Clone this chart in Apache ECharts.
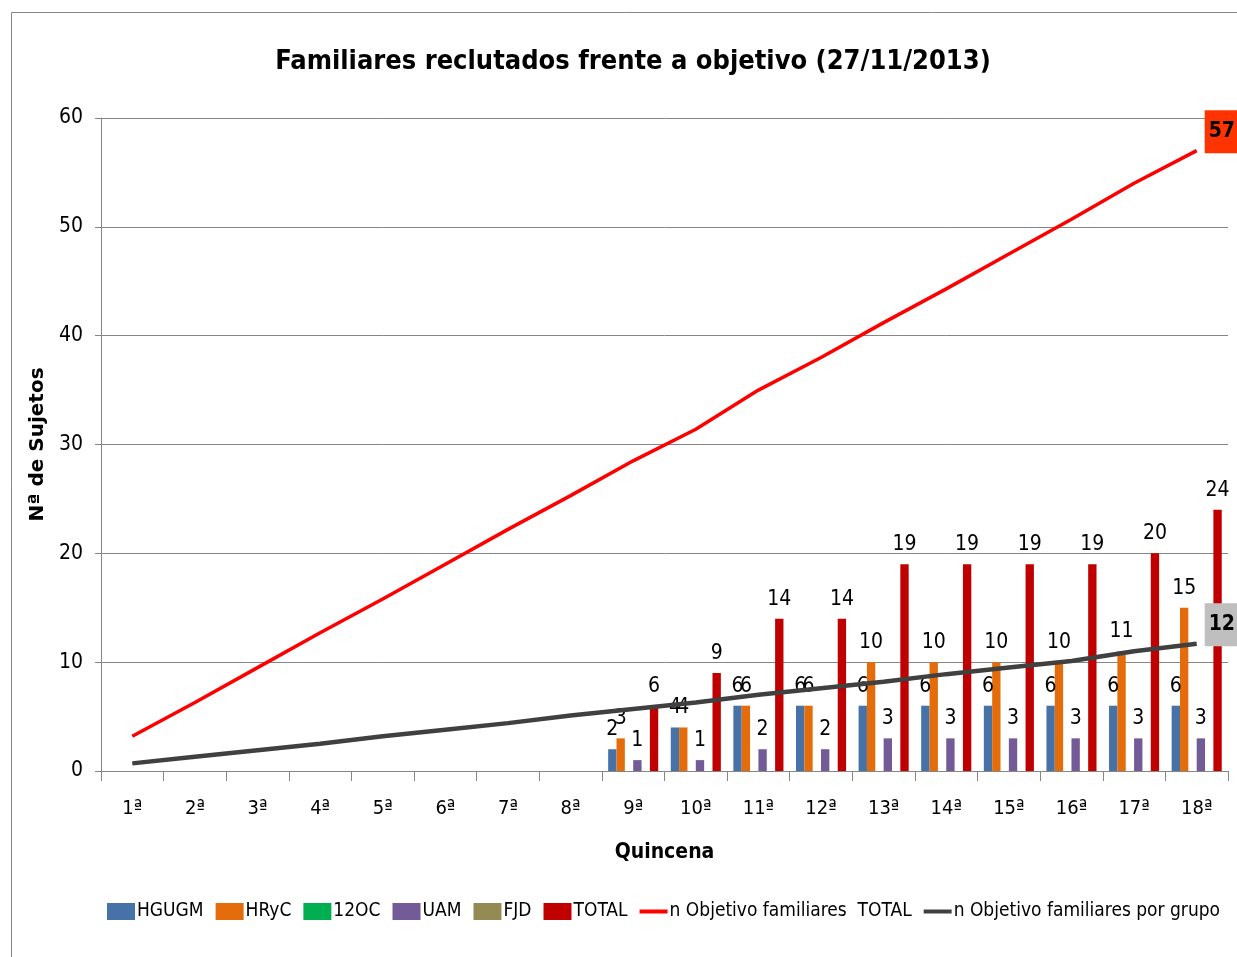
<!DOCTYPE html>
<html>
<head>
<meta charset="utf-8">
<script src="https://cdn.jsdelivr.net/npm/echarts@6/dist/echarts.min.js"></script>
<style>
  html, body { margin: 0; padding: 0; background: #fff; }
  #chart { width: 1237px; height: 957px; }
</style>
</head>
<body>
<div id="chart"></div>
<script>
// quincenas
const categories = ['1ª', '2ª', '3ª', '4ª', '5ª', '6ª', '7ª', '8ª', '9ª',
  '10ª', '11ª', '12ª', '13ª', '14ª', '15ª', '16ª', '17ª', '18ª']

// reclutados por grupo (0 = sin barra)
const hgugm = [0, 0, 0, 0, 0, 0, 0, 0, 2, 4, 6, 6, 6, 6, 6, 6, 6, 6]
const hryc  = [0, 0, 0, 0, 0, 0, 0, 0, 3, 4, 6, 6, 10, 10, 10, 10, 11, 15]
const oc12  = [0, 0, 0, 0, 0, 0, 0, 0, 0, 0, 0, 0, 0, 0, 0, 0, 0, 0]
const uam   = [0, 0, 0, 0, 0, 0, 0, 0, 1, 1, 2, 2, 3, 3, 3, 3, 3, 3]
const fjd   = [0, 0, 0, 0, 0, 0, 0, 0, 0, 0, 0, 0, 0, 0, 0, 0, 0, 0]
const total = [0, 0, 0, 0, 0, 0, 0, 0, 6, 9, 14, 14, 19, 19, 19, 19, 20, 24]

// objetivos
const objTotal = [3.2, 6.3, 9.5, 12.7, 15.8, 19, 22.2, 25.3, 28.5, 31.4, 35, 38, 41.2, 44.3, 47.5, 50.7, 54, 57]
const objGrupo = [0.7, 1.3, 1.9, 2.5, 3.2, 3.8, 4.4, 5.1, 5.7, 6.3, 7.0, 7.6, 8.2, 8.9, 9.5, 10.1, 11.0, 11.7]

const yTicks = [0, 10, 20, 30, 40, 50, 60]

const FONT = '"DejaVu Sans Condensed", "Liberation Sans Narrow", sans-serif'
const LINE_ICON = 'path://M0,0 L28,0 L28,4 L0,4 Z'

const chart = echarts.init(document.getElementById('chart'))

const barLabel = {
  show: true,
  position: 'top',
  distance: 9,
  fontFamily: FONT,
  fontSize: 21,
  color: '#000',
  formatter: p => (p.value ? p.value : '')
}

const makeBar = (name, data, color) => ({
  name,
  type: 'bar',
  data,
  barGap: '0%',
  barCategoryGap: '20%',
  itemStyle: { color },
  label: barLabel
})

const endLabel = bg => ({
  show: true,
  distance: 8,
  offset: [0, -19],
  formatter: p => Math.round(p.value[1] !== undefined ? p.value[1] : p.value),
  fontFamily: FONT,
  fontWeight: 'bold',
  fontSize: 21,
  color: '#000',
  backgroundColor: bg,
  padding: [11, 4, 11, 4]
})

const option = {
  backgroundColor: '#fff',
  animation: false,
  title: {
    text: 'Familiares reclutados frente a objetivo (27/11/2013)',
    left: 628,
    textAlign: 'center',
    top: 43,
    textStyle: {
      fontFamily: FONT,
      fontWeight: 'bold',
      fontSize: 27,
      color: '#000'
    }
  },
  graphic: [{
    type: 'rect',
    shape: { x: 11.5, y: 12.5, width: 1260, height: 1000 },
    style: { fill: 'none', stroke: '#868686', lineWidth: 1 },
    silent: true
  }],
  legend: {
    left: 107,
    top: 902,
    width: 1130,
    padding: 0,
    itemWidth: 28,
    itemHeight: 17,
    itemGap: 12,
    symbolKeepAspect: true,
    textStyle: { fontFamily: FONT, fontSize: 19, color: '#000', padding: [0, 0, 0, -3] },
    data: [
      { name: 'HGUGM', icon: 'rect' },
      { name: 'HRyC', icon: 'rect' },
      { name: '12OC', icon: 'rect' },
      { name: 'UAM', icon: 'rect' },
      { name: 'FJD', icon: 'rect' },
      { name: 'TOTAL', icon: 'rect' },
      { name: 'n Objetivo familiares  TOTAL', icon: LINE_ICON },
      { name: 'n Objetivo familiares por grupo', icon: LINE_ICON }
    ]
  },
  grid: {
    left: 101,
    right: 9,
    top: 118,
    bottom: 186
  },
  xAxis: {
    type: 'category',
    data: categories,
    name: 'Quincena',
    nameLocation: 'middle',
    nameGap: 71,
    nameTextStyle: { fontFamily: FONT, fontWeight: 'bold', fontSize: 21, color: '#000' },
    axisLine: { lineStyle: { color: '#868686', width: 1 } },
    axisTick: { show: true, length: 10, lineStyle: { color: '#868686' } },
    axisLabel: { fontFamily: FONT, fontSize: 20, color: '#000', margin: 28 }
  },
  yAxis: {
    type: 'value',
    min: yTicks[0],
    max: yTicks[yTicks.length - 1],
    interval: 10,
    name: 'Nª de Sujetos',
    nameLocation: 'middle',
    nameGap: 46,
    nameRotate: 90,
    nameTextStyle: { fontFamily: '"DejaVu Sans", sans-serif', fontWeight: 'bold', fontSize: 20, color: '#000' },
    axisLine: { show: true, lineStyle: { color: '#868686' } },
    axisTick: { show: true, length: 6, lineStyle: { color: '#868686' } },
    axisLabel: { fontFamily: FONT, fontSize: 21, color: '#000', margin: 18 },
    splitLine: { lineStyle: { color: '#868686', width: 1 } }
  },
  series: [
    makeBar('HGUGM', hgugm, '#4672A8'),
    makeBar('HRyC', hryc, '#E46C0A'),
    makeBar('12OC', oc12, '#00B050'),
    makeBar('UAM', uam, '#725B96'),
    makeBar('FJD', fjd, '#948A54'),
    makeBar('TOTAL', total, '#C00000'),
    {
      name: 'n Objetivo familiares  TOTAL',
      type: 'line',
      data: objTotal,
      symbol: 'none',
      lineStyle: { color: '#FF0000', width: 3.5 },
      itemStyle: { color: '#FF0000' },
      endLabel: endLabel('#FF3300'),
      z: 5
    },
    {
      name: 'n Objetivo familiares por grupo',
      type: 'line',
      data: objGrupo,
      symbol: 'none',
      lineStyle: { color: '#404040', width: 4.5 },
      itemStyle: { color: '#404040' },
      endLabel: endLabel('#BFBFBF'),
      z: 5
    }
  ]
}

chart.setOption(option)
</script>
</body>
</html>
